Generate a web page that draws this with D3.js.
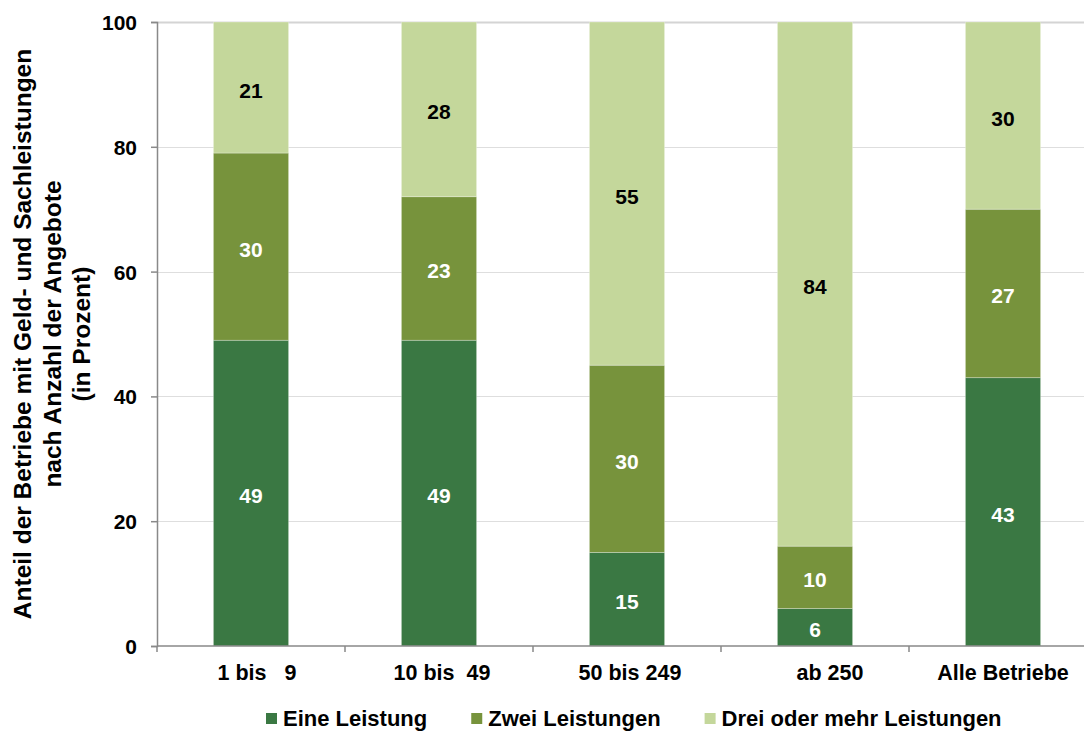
<!DOCTYPE html>
<html>
<head>
<meta charset="utf-8">
<script src="https://cdn.jsdelivr.net/npm/d3@7"></script>
<style>
  html, body { margin: 0; padding: 0; background: #ffffff; }
  svg { display: block; font-family: "Liberation Sans", Arial, sans-serif; font-weight: bold; }
  text.pre { white-space: pre; }
</style>
</head>
<body>
<svg id="chart" width="1084" height="731"></svg>
<script>
// Betriebsgrößenklassen (Beschäftigte)
const categories = ["1 bis   9", "10 bis  49", "50 bis 249", "ab 250", "Alle Betriebe"];
const categoryLabels = ["  1 bis   9", " 10 bis  49", " 50 bis 249", "     ab 250", "Alle Betriebe"];

// Anteile in Prozent
const eineLeistung = [49, 49, 15, 6, 43];
const zweiLeistungen = [30, 23, 30, 10, 27];
const dreiOderMehr = [21, 28, 55, 84, 30];

const seriesNames = ["Eine Leistung", "Zwei Leistungen", "Drei oder mehr Leistungen"];
const seriesColors = ["#3a7843", "#77933c", "#c4d79b"];
const labelColors = ["#ffffff", "#ffffff", "#000000"];

const yTicks = [0, 20, 40, 60, 80, 100];

const titleLines = [
  "Anteil der Betriebe mit Geld- und Sachleistungen",
  "nach Anzahl der Angebote",
  "(in Prozent)"
];

const svg = d3.select("#chart");
const margin = { left: 157, right: -13, top: 22, bottom: 85 };
const W = 1084, H = 731;

const x = d3.scaleBand()
  .domain(categories)
  .range([margin.left, W - margin.right])
  .paddingInner(0.6)
  .paddingOuter(0.3);

const y = d3.scaleLinear()
  .domain([0, 100])
  .range([H - margin.bottom, margin.top]);

// Gitterlinien
svg.append("g")
  .selectAll("line")
  .data(yTicks.filter(d => d > 0))
  .join("line")
  .attr("x1", margin.left)
  .attr("x2", W - margin.right)
  .attr("y1", d => Math.round(y(d)) + 0.5)
  .attr("y2", d => Math.round(y(d)) + 0.5)
  .attr("stroke", d => d === 100 ? "#d4d4d4" : "#dedede")
  .attr("stroke-width", d => d === 100 ? 2 : 1);

// Gestapelte Balken
const rows = categories.map((c, i) => ({
  cat: c,
  "Eine Leistung": eineLeistung[i],
  "Zwei Leistungen": zweiLeistungen[i],
  "Drei oder mehr Leistungen": dreiOderMehr[i]
}));
const stacked = d3.stack().keys(seriesNames)(rows);

const layers = svg.append("g")
  .selectAll("g")
  .data(stacked)
  .join("g")
  .attr("fill", (d, i) => seriesColors[i]);

layers.selectAll("rect")
  .data(d => d)
  .join("rect")
  .attr("x", d => x(d.data.cat))
  .attr("width", x.bandwidth())
  .attr("y", d => y(d[1]))
  .attr("height", d => y(d[0]) - y(d[1]))
  .attr("stroke", "#ffffff")
  .attr("stroke-opacity", 0.35)
  .attr("stroke-width", 0.8);

// Werte in den Segmenten
layers.each(function (layer, li) {
  d3.select(this).selectAll("text")
    .data(layer)
    .join("text")
    .attr("x", d => x(d.data.cat) + x.bandwidth() / 2)
    .attr("y", d => (y(d[0]) + y(d[1])) / 2 + 10)
    .attr("text-anchor", "middle")
    .attr("font-size", 21)
    .attr("fill", labelColors[li])
    .text(d => d.data[layer.key]);
});

// Y-Achse
const yAxis = svg.append("g")
  .attr("transform", `translate(${margin.left},0)`)
  .call(d3.axisLeft(y).tickValues(yTicks).tickSize(6).tickPadding(14).tickFormat(d3.format("d")));
yAxis.select(".domain").attr("stroke", "#898989").attr("stroke-width", 1.5);
yAxis.selectAll(".tick line").attr("stroke", "#898989").attr("stroke-width", 1.5);
yAxis.selectAll(".tick text")
  .attr("font-size", 21)
  .attr("font-family", "Liberation Sans, Arial, sans-serif")
  .attr("font-weight", "bold")
  .attr("fill", "#000")
  .attr("dy", "0.36em");

// X-Achse mit Trennstrichen zwischen den Kategorien
const xAxisY = y(0);
const xg = svg.append("g");
xg.append("line")
  .attr("x1", margin.left).attr("x2", W - margin.right)
  .attr("y1", xAxisY).attr("y2", xAxisY)
  .attr("stroke", "#898989").attr("stroke-width", 1.5);
const tickPositions = categories.map(c => x(c) + x.bandwidth() / 2 - x.step() / 2)
  .concat([x(categories[categories.length - 1]) + x.bandwidth() / 2 + x.step() / 2]);
xg.selectAll("line.tk")
  .data(tickPositions)
  .join("line")
  .attr("class", "tk")
  .attr("x1", d => d).attr("x2", d => d)
  .attr("y1", xAxisY).attr("y2", xAxisY + 6)
  .attr("stroke", "#898989").attr("stroke-width", 1.5);
xg.selectAll("text")
  .data(categories)
  .join("text")
  .attr("class", "pre")
  .attr("x", d => x(d) + x.bandwidth() / 2)
  .attr("y", 680)
  .attr("text-anchor", "middle")
  .attr("font-size", 21.5)
  .attr("fill", "#000")
  .text((d, i) => categoryLabels[i]);

// Achsentitel
const cy = (y(0) + y(100)) / 2;
svg.append("g")
  .selectAll("text")
  .data(titleLines)
  .join("text")
  .attr("transform", (d, i) => `translate(${31 + i * 29.5},${cy}) rotate(-90)`)
  .attr("text-anchor", "middle")
  .attr("font-size", 24.5)
  .attr("fill", "#000")
  .text(d => d);

// Legende
const legend = svg.append("g").attr("transform", "translate(266,726)");
let lx = 0;
seriesNames.forEach((name, i) => {
  const g = legend.append("g").attr("transform", `translate(${lx},0)`);
  g.append("rect")
    .attr("x", 0).attr("y", -13)
    .attr("width", 11).attr("height", 11)
    .attr("fill", seriesColors[i]);
  const t = g.append("text")
    .attr("x", 17).attr("y", 0)
    .attr("font-size", 22)
    .attr("fill", "#000")
    .text(name);
  lx += 17 + t.node().getComputedTextLength() + 44;
});
</script>
</body>
</html>
